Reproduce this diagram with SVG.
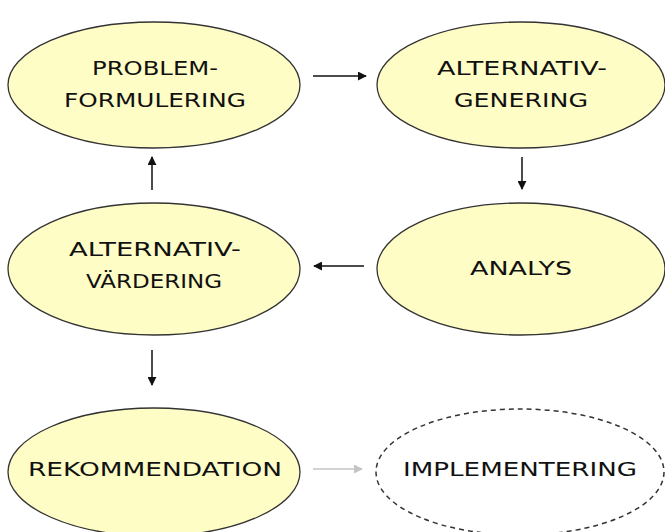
<svg xmlns="http://www.w3.org/2000/svg" width="665" height="532" viewBox="0 0 665 532">
<defs>
<marker id="ah" viewBox="0 0 10 10" refX="9" refY="5" markerWidth="9" markerHeight="9" markerUnits="userSpaceOnUse" orient="auto">
<path d="M0,0 L10,5 L0,10 Z" fill="#111"/>
</marker>
<marker id="ahg" viewBox="0 0 10 10" refX="9" refY="5" markerWidth="9" markerHeight="9" markerUnits="userSpaceOnUse" orient="auto">
<path d="M0,0 L10,5 L0,10 Z" fill="#c4c4c4"/>
</marker>
</defs>
<style>
.n{fill:#fffdc6;stroke:#333;stroke-width:1.3}
.d{fill:none;stroke:#333;stroke-width:1.5;stroke-dasharray:5 4}
.t{font-family:"DejaVu Sans","Liberation Sans",sans-serif;font-size:19px;fill:#111;text-anchor:middle}
.c{stroke:#111;stroke-width:1.5;fill:none;marker-end:url(#ah)}
.g{stroke:#c4c4c4;stroke-width:1.5;fill:none;marker-end:url(#ahg)}
</style>
<rect width="665" height="532" fill="#fff"/>
<g id="problemformulering">
<ellipse class="n" cx="154" cy="85" rx="146" ry="63"/>
<text class="t" x="155" y="75" textLength="126" lengthAdjust="spacingAndGlyphs">PROBLEM-</text>
<text class="t" x="155" y="107" textLength="182" lengthAdjust="spacingAndGlyphs">FORMULERING</text>
</g>
<g id="alternativgenering">
<ellipse class="n" cx="521" cy="85" rx="144" ry="63"/>
<text class="t" x="522" y="75" textLength="170" lengthAdjust="spacingAndGlyphs">ALTERNATIV-</text>
<text class="t" x="521" y="107" textLength="134" lengthAdjust="spacingAndGlyphs">GENERING</text>
</g>
<g id="alternativvardering">
<ellipse class="n" cx="154" cy="269" rx="146" ry="66"/>
<text class="t" x="155" y="256" textLength="172" lengthAdjust="spacingAndGlyphs">ALTERNATIV-</text>
<text class="t" x="154" y="288" textLength="136" lengthAdjust="spacingAndGlyphs">VÄRDERING</text>
</g>
<g id="analys">
<ellipse class="n" cx="521" cy="269" rx="144" ry="66"/>
<text class="t" x="521" y="275" textLength="102" lengthAdjust="spacingAndGlyphs">ANALYS</text>
</g>
<g id="rekommendation">
<ellipse class="n" cx="154" cy="472" rx="146" ry="64"/>
<text class="t" x="155" y="476" textLength="254" lengthAdjust="spacingAndGlyphs">REKOMMENDATION</text>
</g>
<g id="implementering">
<ellipse class="d" cx="520" cy="472" rx="144" ry="63"/>
<text class="t" x="520" y="476" textLength="234" lengthAdjust="spacingAndGlyphs">IMPLEMENTERING</text>
</g>
<g id="connectors">
<line class="c" x1="313" y1="76" x2="366" y2="76"/>
<line class="c" x1="522" y1="157" x2="522" y2="189"/>
<line class="c" x1="364" y1="266" x2="314" y2="266"/>
<line class="c" x1="152" y1="190" x2="152" y2="157"/>
<line class="c" x1="152" y1="350" x2="152" y2="385"/>
<line class="g" x1="313" y1="469" x2="362" y2="469"/>
</g>
</svg>
